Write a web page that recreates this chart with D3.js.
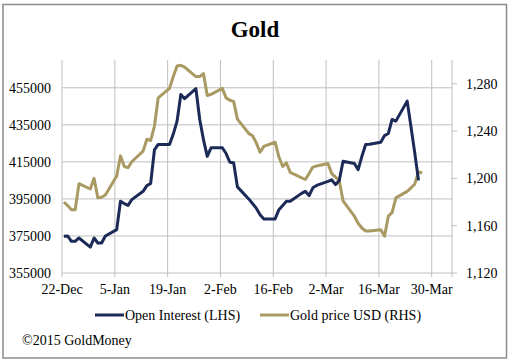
<!DOCTYPE html>
<html>
<head>
<meta charset="utf-8">
<script src="https://cdn.jsdelivr.net/npm/d3@7"></script>
<style>
  body { margin: 0; background: #fff; }
  svg text { font-family: "Liberation Serif", "Times New Roman", serif; fill: #000; }
</style>
</head>
<body>
<script>
// weekdays, holidays carry the previous value
var dates = [
  "2014-12-22","2014-12-23","2014-12-24","2014-12-25","2014-12-26","2014-12-29","2014-12-30","2014-12-31",
  "2015-01-01","2015-01-02","2015-01-05","2015-01-06","2015-01-07","2015-01-08","2015-01-09","2015-01-12",
  "2015-01-13","2015-01-14","2015-01-15","2015-01-16","2015-01-19","2015-01-20","2015-01-21","2015-01-22",
  "2015-01-23","2015-01-26","2015-01-27","2015-01-28","2015-01-29","2015-01-30",
  "2015-02-02","2015-02-03","2015-02-04","2015-02-05","2015-02-06","2015-02-09","2015-02-10","2015-02-11",
  "2015-02-12","2015-02-13","2015-02-16","2015-02-17","2015-02-18","2015-02-19","2015-02-20","2015-02-23",
  "2015-02-24","2015-02-25","2015-02-26","2015-02-27",
  "2015-03-02","2015-03-03","2015-03-04","2015-03-05","2015-03-06","2015-03-09","2015-03-10","2015-03-11",
  "2015-03-12","2015-03-13","2015-03-16","2015-03-17","2015-03-18","2015-03-19","2015-03-20","2015-03-23",
  "2015-03-24","2015-03-25","2015-03-26","2015-03-27"
];

var openInterest = [
  374800,375000,372100,372100,373900,369000,373900,371200,
  371200,375000,378400,393700,392500,391500,394600,399100,
  402200,403300,421500,424400,424400,430000,437000,451400,
  449100,454500,438000,427000,418000,422600,
  422600,419500,414800,414500,401500,395000,392500,390000,
  386500,384200,384200,389200,391500,393700,393700,398000,
  399100,396800,401000,402300,
  404500,405300,402700,405000,415300,414100,410800,418000,
  424400,424500,425600,429200,430300,437900,437000,447800,
  434100,420000,405000
];

var goldPrice = [
  1180,1177,1173.5,1173.5,1195.5,1191,1200,1183.5,
  1184,1186,1202,1219,1210,1209,1214,1223,
  1233,1232,1244,1268,1276,1286,1295,1295.5,
  1294,1286,1286,1288.5,1270,1271,
  1276,1268,1266,1265,1250,1238,1236,1230,
  1222,1227,1230.5,1218,1210,1213,1205,1200.5,
  1199,1204,1209.5,1210.5,
  1212.5,1204,1201,1198,1181,1168,1162,1158,
  1155.5,1155.5,1156.5,1151,1168,1171,1183.5,1189,
  1192,1195,1205.5,1204.5
];

var xTickLabels = ["22-Dec","5-Jan","19-Jan","2-Feb","16-Feb","2-Mar","16-Mar","30-Mar"];
var leftTicks = [355000,375000,395000,415000,435000,455000];
var rightTicks = [1120,1160,1200,1240,1280];

var width = 512, height = 362;
var plotLeft = 62, plotRight = 452, plotTop = 60, plotBottom = 273;
var navy = "#1b2a57", tan = "#a99a63", gridColor = "#c0c0c0";
var serif = "'Liberation Serif', 'Times New Roman', serif";

var parseDate = d3.timeParse("%Y-%m-%d");
var tickDates = d3.range(0, 8).map(function(i){ return d3.timeDay.offset(parseDate("2014-12-22"), i*14); });

var svg = d3.select("body").append("svg")
    .attr("width", width)
    .attr("height", height)
    .attr("font-family", serif);

svg.append("rect")
    .attr("x", 3).attr("y", 4.5)
    .attr("width", 503.5).attr("height", 353.5)
    .style("fill", "#fff")
    .style("stroke", "#8c8c8c")
    .style("stroke-width", 1.5);

var x = d3.scaleTime()
    .domain([tickDates[0], tickDates[7]])
    .range([plotLeft, 431.7]);
var halfDay = (x(tickDates[1]) - x(tickDates[0])) / 28;

var yLeft = d3.scaleLinear().domain([355000, 470000]).range([plotBottom, plotTop]);
var yRight = d3.scaleLinear().domain([1120, 1300]).range([plotBottom, plotTop]);

// horizontal grid
svg.append("g").selectAll("line")
    .data(leftTicks)
    .enter().append("line")
    .attr("x1", plotLeft).attr("x2", plotRight)
    .attr("y1", function(d){ return yLeft(d); })
    .attr("y2", function(d){ return yLeft(d); })
    .style("stroke", gridColor).style("stroke-width", 1);

// vertical grid
svg.append("g").selectAll("line")
    .data(tickDates)
    .enter().append("line")
    .attr("x1", function(d){ return x(d); })
    .attr("x2", function(d){ return x(d); })
    .attr("y1", plotTop).attr("y2", plotBottom + 4)
    .style("stroke", gridColor).style("stroke-width", 1);

// right axis line + ticks
svg.append("line")
    .attr("x1", plotRight).attr("x2", plotRight)
    .attr("y1", plotTop).attr("y2", plotBottom + 4)
    .style("stroke", gridColor).style("stroke-width", 1);
svg.append("g").selectAll("line")
    .data(rightTicks)
    .enter().append("line")
    .attr("x1", plotRight).attr("x2", plotRight + 5)
    .attr("y1", function(d){ return yRight(d); })
    .attr("y2", function(d){ return yRight(d); })
    .style("stroke", gridColor);

// left tick labels
svg.append("g").selectAll("text")
    .data(leftTicks)
    .enter().append("text")
    .attr("x", 51)
    .attr("y", function(d){ return yLeft(d) + 5; })
    .attr("text-anchor", "end")
    .style("font-size", "14px")
    .text(function(d){ return d; });

var commaFmt = d3.format(",");
svg.append("g").selectAll("text")
    .data(rightTicks)
    .enter().append("text")
    .attr("x", 466)
    .attr("y", function(d){ return yRight(d) + 5; })
    .style("font-size", "14px")
    .text(function(d){ return commaFmt(d); });

svg.append("g").selectAll("text")
    .data(tickDates)
    .enter().append("text")
    .attr("x", function(d){ return x(d); })
    .attr("y", 294)
    .attr("text-anchor", "middle")
    .style("font-size", "14px")
    .text(function(d, i){ return xTickLabels[i]; });

var goldData = dates.map(function(d, i){ return { date: parseDate(d), v: goldPrice[i] }; });
var oiData = openInterest.map(function(v, i){ return { date: parseDate(dates[i]), v: v }; });

var goldLine = d3.line()
    .x(function(d){ return x(d.date) + halfDay; })
    .y(function(d){ return yRight(d.v); });
var oiLine = d3.line()
    .x(function(d){ return x(d.date) + halfDay; })
    .y(function(d){ return yLeft(d.v); });

svg.append("path")
    .datum(goldData)
    .attr("d", goldLine)
    .style("fill", "none")
    .style("stroke", tan)
    .style("stroke-width", 3)
    .style("stroke-linejoin", "round");

svg.append("path")
    .datum(oiData)
    .attr("d", oiLine)
    .style("fill", "none")
    .style("stroke", navy)
    .style("stroke-width", 3)
    .style("stroke-linejoin", "round");

// title
svg.append("text")
    .attr("x", 255).attr("y", 37)
    .attr("text-anchor", "middle")
    .style("font-size", "23px")
    .style("font-weight", "bold")
    .text("Gold");

// legend
var legend = [
  { name: "Open Interest (LHS)", color: navy, x: 95 },
  { name: "Gold price USD (RHS)", color: tan, x: 260 }
];
var lg = svg.append("g").selectAll("g")
    .data(legend)
    .enter().append("g");
lg.append("line")
    .attr("x1", function(d){ return d.x; })
    .attr("x2", function(d){ return d.x + 29; })
    .attr("y1", 315).attr("y2", 315)
    .style("stroke", function(d){ return d.color; })
    .style("stroke-width", 3);
lg.append("text")
    .attr("x", function(d){ return d.x + 30; })
    .attr("y", 320)
    .style("font-size", "14px")
    .text(function(d){ return d.name; });

svg.append("text")
    .attr("x", 22).attr("y", 345)
    .style("font-size", "14px")
    .text("\u00a92015 GoldMoney");
</script>
</body>
</html>
